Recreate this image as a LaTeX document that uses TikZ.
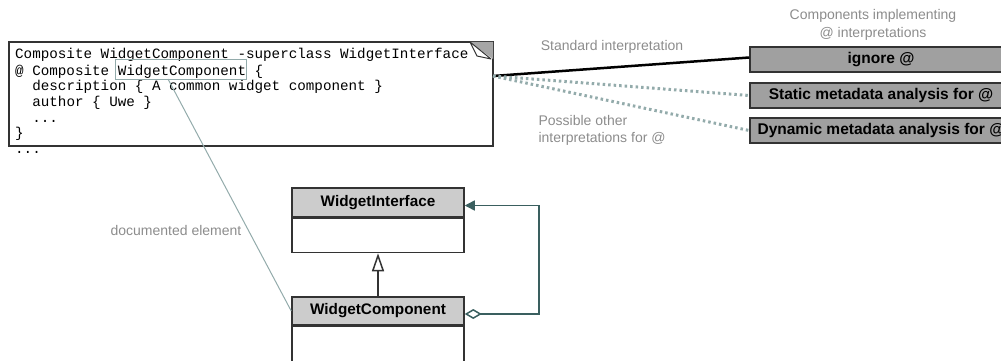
\documentclass[tikz,border=0pt]{standalone}
\usepackage{fontspec}
\setmainfont{Liberation Sans}
\setmonofont{Liberation Mono}
\usepackage{xcolor}
\usetikzlibrary{positioning,arrows.meta}

\definecolor{notegrey}{HTML}{8C8C8C}
\definecolor{linkgrey}{HTML}{93ABAB}
\definecolor{assocteal}{HTML}{3A5F5F}
\definecolor{implgrey}{HTML}{A0A0A0}
\definecolor{headgrey}{HTML}{CCCCCC}
\definecolor{frame}{HTML}{333333}

\begin{document}
\begin{tikzpicture}[x=1pt,y=-1pt,
  codeline/.style={anchor=base west,inner sep=0pt,font=\ttfamily\fontsize{14.25}{15.7}\selectfont},
  note/.style={text=notegrey,font=\fontsize{14}{17.5}\selectfont,align=center},
  impl/.style={draw=frame,line width=1.5pt,fill=implgrey,minimum width=262pt,minimum height=25pt,inner sep=0pt,font=\bfseries\fontsize{15.5}{18}\selectfont},
  head/.style={draw=frame,line width=1.5pt,fill=headgrey,minimum width=172pt,minimum height=29pt,inner sep=0pt,font=\bfseries\fontsize{15.3}{18}\selectfont},
  body/.style={draw=frame,line width=1.5pt,fill=white,minimum width=172pt,minimum height=34pt,inner sep=0pt}]
  \useasboundingbox (0,0) rectangle (1001,361);

  % code snippet
  \node[draw=frame,line width=1.5pt,minimum width=484pt,minimum height=104pt,inner sep=0pt] (code) at (251,94) {};
  \fill[gray!70] (470,42) -- (493,42) -- (493,59) -- cycle;
  \draw[frame,fill=white,line width=1pt,line join=round] (470,42) -- (491,59) -- (477,56) -- cycle;
  \node[codeline] (l1) at (15,59) {Composite WidgetComponent -superclass WidgetInterface};
  \node[codeline] (l2) at (15,75) {@ Composite WidgetComponent \{};
  \node[codeline] (l3) at (15,90.7) {\ \ description \{ A common widget component \}};
  \node[codeline] (l4) at (15,106.3) {\ \ author \{ Uwe \}};
  \node[codeline] (l5) at (15,122) {\ \ ...};
  \node[codeline] (l6) at (15,137.6) {\}};
  \node[codeline] (l7) at (15,153) {...};
  \node[draw=linkgrey,line width=1pt,inner sep=0pt,minimum width=131pt,minimum height=19pt] (hl) at (180.5,69.5) {};

  % interpretations
  \node[impl] (ignore) at (881,59.5) {ignore @};
  \node[impl] (static) at (881,95.5) {Static metadata analysis for @};
  \node[impl] (dynamic) at (881,130.5) {Dynamic metadata analysis for @};
  \node[note] (comp) at (873,25) {Components implementing\\@ interpretations};
  \node[note] (std) at (612,47) {Standard interpretation};
  \node[note,align=left,anchor=west] (other) at (535,130.5) {Possible other\\interpretations for @};

  \coordinate (src) at (493,76);
  \draw[line width=2.5pt] (src) -- ([yshift=2pt]ignore.west);
  \draw[linkgrey,line width=3pt,dash pattern=on 2.5pt off 3pt] (src) -- (static.west);
  \draw[linkgrey,line width=3pt,dash pattern=on 2.5pt off 3pt] (src) -- (dynamic.west);

  % class diagram
  \node[head] (wi) at (378,202.5) {WidgetInterface};
  \node[body,below=0pt of wi] (wib) {};
  \node[head,minimum height=28pt] (wc) at (378,311) {WidgetComponent};
  \node[body,below=0pt of wc,minimum height=35pt] (wcb) {};

  \draw[frame,line width=1.5pt,-{Triangle[open,length=18pt,width=12pt]}] (wc.north) -- (wib.south);
  \draw[assocteal,line width=1.5pt,{Diamond[open,length=17pt,width=10pt]}-{Triangle[length=10pt,width=10pt]}]
    ([yshift=-3pt]wc.east) -- ++(74,0) |- ([yshift=-3pt]wi.east);

  \coordinate (doc) at (168,79);
  \draw[linkgrey,line width=1pt] (doc) -- (wc.west);
  \node[note] (docl) at (176,230) {documented element};
\end{tikzpicture}
\end{document}
